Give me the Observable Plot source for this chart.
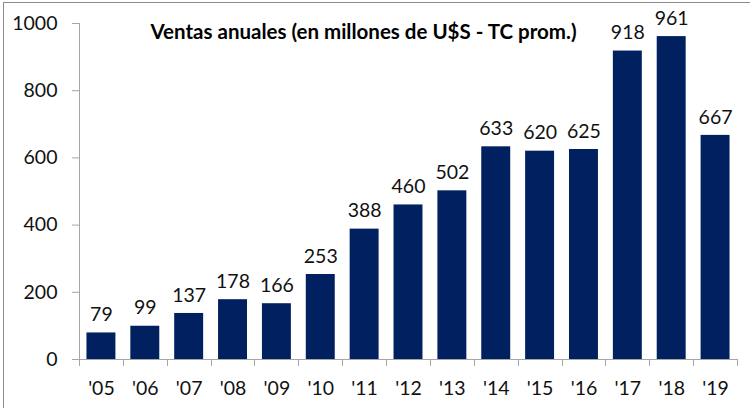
<!DOCTYPE html>
<html>
<head>
<meta charset="utf-8">
<script src="https://cdn.jsdelivr.net/npm/d3@7"></script>
<script src="https://cdn.jsdelivr.net/npm/@observablehq/plot@0.6"></script>
<style>
  html, body { margin: 0; padding: 0; background: #fff; }
  #wrap { position: relative; width: 750px; height: 408px; overflow: hidden; }
  #border { position: absolute; left: 3px; top: 2px; width: 760px; height: 420px; border-left: 1px solid #8c8c8c; border-top: 1px solid #8c8c8c; pointer-events: none; }
  svg { display: block; }
</style>
</head>
<body>
<div id="wrap"><div id="border"></div></div>
<script>
const years = ["'05","'06","'07","'08","'09","'10","'11","'12","'13","'14","'15","'16","'17","'18","'19"];
const sales = [79, 99, 137, 178, 166, 253, 388, 460, 502, 633, 620, 625, 918, 961, 667];
const yTicks = [0, 200, 400, 600, 800, 1000];
const title = "Ventas anuales (en millones de U$S - TC prom.)";

const data = years.map((year, i) => ({year, value: sales[i]}));

const axisLines = (index, scales, values, dims) => {
  const g = d3.create("svg:g").attr("stroke", "#a6a6a6").attr("fill", "none");
  const y = scales.y;
  const left = dims.marginLeft, right = dims.width - dims.marginRight;
  const y0 = y(0), yTop = y(yTicks[yTicks.length - 1]);
  g.append("line").attr("x1", left + 0.5).attr("x2", left + 0.5).attr("y1", yTop).attr("y2", y0);
  const n = years.length;
  for (let i = 0; i <= n; i++) {
    const xb = Math.round(left + i * (right - left) / n) + 0.5;
    g.append("line").attr("x1", xb).attr("x2", xb).attr("y1", y0).attr("y2", y0 + 7);
  }
  return g.node();
};

const chart = Plot.plot({
  width: 750,
  height: 408,
  marginLeft: 79,
  marginRight: 13,
  marginTop: 23,
  marginBottom: 49,
  style: {fontFamily: "Lato, 'Open Sans', sans-serif", fontSize: "19.5px", color: "#111", background: "transparent", overflow: "visible"},
  x: {domain: years, paddingInner: 0.34, paddingOuter: 0.17, align: 0.5, round: false},
  y: {domain: [0, 1000]},
  marks: [
    Plot.barY(data, {x: "year", y: "value", fill: "#002060"}),
    Plot.ruleY([0], {stroke: "#a6a6a6"}),
    Plot.axisY({ticks: yTicks, tickSize: 7, tickPadding: 15, stroke: "#a6a6a6", label: null, tickFormat: d => String(d), fontSize: 19.5}),
    Plot.axisX({tickSize: 0, tickPadding: 22, label: null, fontSize: 19.5}),
    Plot.text(data, {x: "year", y: "value", text: d => String(d.value), dy: -18, fontSize: 19.5, fill: "#111"}),
    Plot.text([title], {frameAnchor: "top", dx: -45, dy: 1, fontWeight: "bold", fontSize: 20.5, fill: "#000"}),
    axisLines
  ]
});
document.getElementById("wrap").prepend(chart);
</script>
</body>
</html>
